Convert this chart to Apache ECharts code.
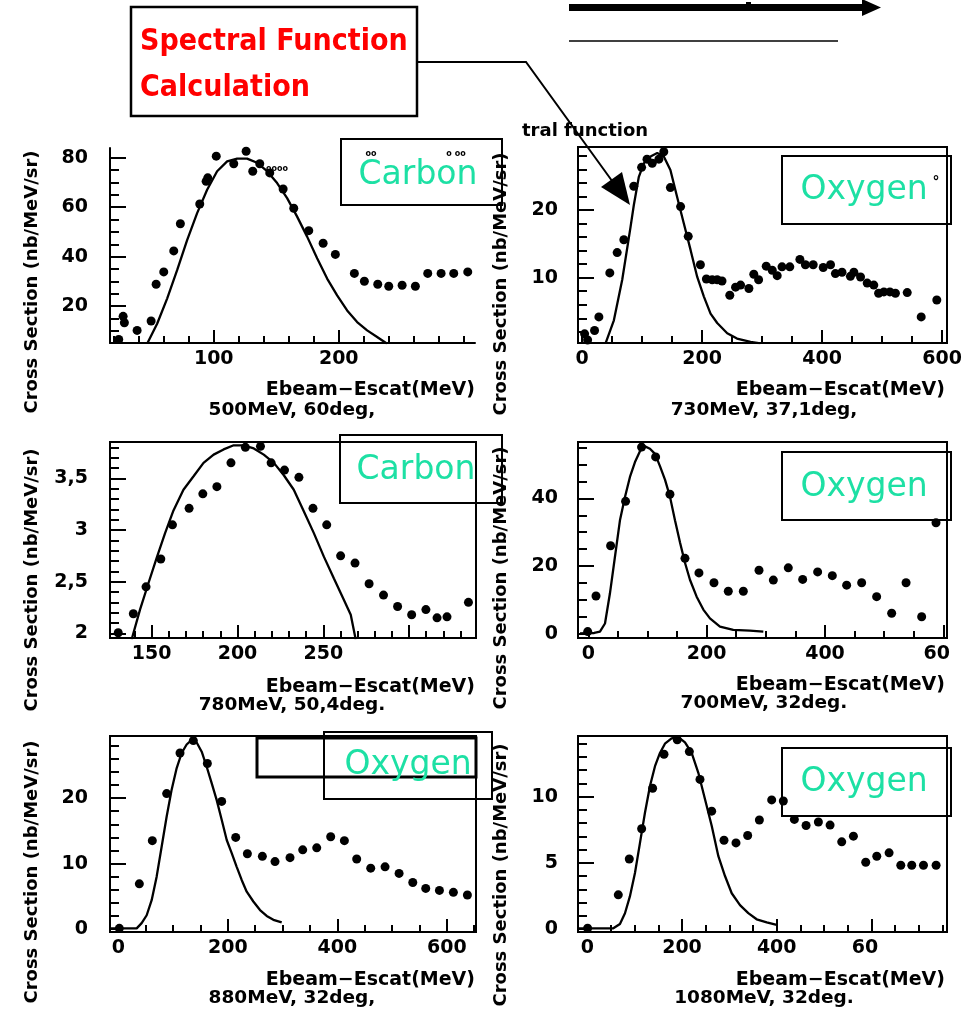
<!DOCTYPE html>
<html><head><meta charset="utf-8">
<script src="https://cdn.jsdelivr.net/npm/echarts@6/dist/echarts.min.js"></script>
<style>html,body{margin:0;padding:0;background:#fff}#c{width:971px;height:1011px}</style>
</head><body><div id="c"></div><script>
// ---------------- DATA ----------------
// Panel 1: Carbon, 500MeV 60deg
const p1DataX = [24, 27.5, 28.5, 38.7, 49.9, 53.9, 60, 68, 73.3, 88.8, 93.9, 95.2, 102, 116, 125.9, 131.2, 136.8, 144.8, 155.5, 164, 176, 187.5, 197.3, 212.5, 220.5, 231.2, 240, 250.7, 261.3, 271.2, 281.9, 292, 303.2];
const p1DataY = [6.4, 15.8, 13.2, 10.1, 13.9, 28.8, 33.8, 42.3, 53.3, 61.3, 70.5, 71.9, 80.7, 77.6, 82.7, 74.6, 77.6, 73.9, 67.4, 59.6, 50.5, 45.4, 40.9, 33.2, 30.0, 28.8, 28.0, 28.4, 28.0, 33.2, 33.2, 33.2, 33.8];
const p1CurveX = [46.7, 54.7, 62.7, 70.7, 78.7, 86.7, 94.7, 102.7, 110.7, 118.7, 126.7, 134.7, 142.7, 150.7, 158.7, 166.7, 174.7, 182.7, 190.7, 198.7, 206.7, 214.7, 222.7, 230.7, 238.7];
const p1CurveY = [4.7, 12.8, 23, 34.5, 46.7, 57.6, 67.1, 74.6, 78.6, 79.7, 79.7, 78, 74.6, 69.8, 63.7, 56.2, 48.1, 39.3, 31.1, 24.3, 18.2, 13.5, 10.1, 7.4, 4.7];
// Panel 2: Oxygen, 730MeV 37.1deg
const p2DataX = [4, 9, 20.6, 27.8, 46, 58.3, 69.4, 86, 99, 108, 116.7, 127.8, 136, 147, 164, 176.7, 197, 207, 216.7, 225, 233, 246, 255.6, 264, 277.8, 286, 294, 306.7, 316.7, 325, 333, 346, 362.8, 372, 385, 401.7, 413.9, 422, 433, 447, 452.8, 463.9, 475, 486, 494, 502.8, 512.8, 522, 541.7, 565, 591];
const p2DataY = [1.7, 0.8, 2.2, 4.2, 10.7, 13.7, 15.6, 23.5, 26.3, 27.5, 26.9, 27.5, 28.6, 23.3, 20.5, 16.1, 11.9, 9.8, 9.7, 9.7, 9.5, 7.4, 8.6, 8.9, 8.4, 10.5, 9.7, 11.7, 11.1, 10.3, 11.6, 11.6, 12.7, 11.9, 11.9, 11.5, 11.9, 10.6, 10.8, 10.2, 10.8, 10.1, 9.2, 8.9, 7.7, 7.9, 7.9, 7.7, 7.8, 4.2, 6.7];
const p2CurveX = [38.9, 52.8, 66.7, 80.6, 86, 94.4, 102.8, 113.9, 125, 136, 147, 158, 169.4, 180.6, 191.7, 202.8, 213.9, 225, 241.7, 258, 280.6, 297];
const p2CurveY = [0.3, 3.7, 9.7, 17.5, 20.7, 24.9, 26.9, 27.9, 28.4, 27.9, 25.9, 22, 18, 14.1, 10.1, 7.2, 4.7, 3.3, 1.8, 1.0, 0.5, 0.3];
// Panel 3: Carbon, 780MeV 50.4deg
const p3DataX = [130.5, 139.3, 146.7, 155.3, 162.1, 171.8, 179.8, 188, 196.2, 204.6, 213.4, 219.6, 227.4, 235.8, 244, 252, 260.1, 268.5, 276.7, 285.1, 293.3, 301.5, 309.8, 316.3, 322.1, 334.6];
const p3DataY = [2.006, 2.19, 2.45, 2.72, 3.05, 3.21, 3.35, 3.42, 3.65, 3.80, 3.81, 3.65, 3.58, 3.51, 3.21, 3.05, 2.75, 2.68, 2.48, 2.37, 2.26, 2.18, 2.23, 2.15, 2.16, 2.30];
const p3CurveX = [138.3, 143.2, 148, 152.9, 157.8, 162.7, 168.5, 174.4, 180.2, 186.1, 191.9, 197.8, 203.6, 209.5, 215.3, 221.2, 227, 232.8, 238.7, 244.5, 250.4, 256.2, 262.1, 266, 268.9];
const p3CurveY = [1.94, 2.23, 2.48, 2.73, 2.97, 3.19, 3.39, 3.52, 3.65, 3.73, 3.78, 3.82, 3.82, 3.79, 3.73, 3.65, 3.53, 3.39, 3.18, 2.97, 2.74, 2.53, 2.32, 2.18, 1.94];
// Panel 4: Oxygen, 700MeV 32deg
const p4DataX = [-1, 13, 37.7, 63, 90, 113.8, 138, 163.4, 187, 212.4, 236.6, 262, 288.5, 312.7, 338, 362.3, 387.6, 412.4, 436.6, 462, 487.3, 512.7, 537, 563.4, 587.6];
const p4DataY = [0.7, 11.2, 26, 39.1, 55.1, 52.2, 41.2, 22.3, 18, 15.1, 12.6, 12.6, 18.8, 15.9, 19.5, 16.1, 18.3, 17.2, 14.4, 15.1, 11, 6.1, 15.1, 5.1, 32.8];
const p4CurveX = [-14, 10, 19.7, 28.2, 36.6, 45, 53.5, 62, 70.4, 78.9, 87.3, 95.8, 104.2, 112.7, 121.1, 129.6, 138, 146.5, 155, 163.4, 171.8, 183.1, 194.4, 205.6, 222.5, 245, 273, 295.8];
const p4CurveY = [0.2, 0.3, 0.7, 3.1, 12, 22.7, 33.5, 40.4, 46.3, 50.7, 53.9, 55.3, 54.6, 53.1, 49.5, 45.5, 40.5, 33.5, 27, 21, 16, 11, 7.2, 4.6, 2.2, 1.2, 1.0, 0.7];
// Panel 5: Oxygen, 880MeV 32deg
const p5DataX = [1.8, 38.4, 62.1, 88.3, 112.7, 137, 162.6, 188.8, 214.4, 235.7, 263.1, 286.2, 313.6, 336.8, 362.4, 387.9, 412.9, 435.4, 461, 487.2, 512.8, 537.8, 561.5, 586.5, 612, 637.6];
const p5DataY = [0.1, 6.9, 13.5, 20.7, 26.9, 28.8, 25.3, 19.5, 14, 11.5, 11.1, 10.3, 10.9, 12.1, 12.4, 14.1, 13.5, 10.7, 9.3, 9.5, 8.5, 7.1, 6.2, 5.9, 5.6, 5.2];
const p5CurveX = [-15, 33.5, 42.6, 51.8, 60.9, 70, 79.2, 88.3, 97.4, 106.6, 115.7, 124.8, 134, 143.1, 152.3, 161.4, 170.5, 179.7, 188.8, 198, 207.1, 216.2, 225.3, 234.5, 246.6, 258.8, 271, 283.2, 298.4];
const p5CurveY = [0.1, 0.1, 0.9, 2.1, 4.4, 8, 12.6, 17.2, 21.3, 24.6, 26.9, 28.2, 28.9, 28.5, 27.1, 24.8, 22.3, 19.7, 16.7, 13.6, 11.6, 9.5, 7.5, 5.7, 4.2, 2.9, 2.0, 1.4, 1.0];
// Panel 6: Oxygen, 1080MeV 32deg
const p6DataX = [0.7, 65.5, 88.7, 114.8, 138, 162, 190, 215.5, 238, 262.7, 288.7, 314, 338.7, 363.4, 389.4, 414, 437.3, 462, 488, 512.7, 537.3, 562, 588, 611.3, 637.3, 662, 685.2, 709.9, 736.6];
const p6DataY = [0.05, 2.58, 5.29, 7.57, 10.63, 13.2, 14.3, 13.4, 11.3, 8.9, 6.7, 6.5, 7.06, 8.23, 9.75, 9.67, 8.28, 7.82, 8.08, 7.85, 6.58, 7.01, 5.04, 5.49, 5.75, 4.81, 4.81, 4.81, 4.81];
const p6CurveX = [-19, 55, 69, 79.6, 90, 100.7, 111.3, 121.8, 132.4, 143, 153.5, 164, 178, 192.3, 206.3, 220.4, 234.5, 248.6, 262.7, 276.8, 290.8, 305, 322.5, 340, 357.7, 378.9, 400];
const p6CurveY = [0.05, 0.05, 0.38, 1.19, 2.46, 4.23, 6.5, 8.78, 10.8, 12.3, 13.3, 14, 14.4, 14.5, 14.1, 13.3, 11.8, 9.8, 7.8, 5.5, 4.0, 2.7, 1.8, 1.2, 0.73, 0.5, 0.3];

// tick labels
const p1XLabels = [100, 200], p1YLabels = [20, 40, 60, 80];
const p2XLabels = [0, 200, 400, 600], p2YLabels = [10, 20];
const p3XLabels = [150, 200, 250], p3YLabels = [2, 2.5, 3, 3.5];
const p4XLabels = [0, 200, 400, 600], p4YLabels = [0, 20, 40];
const p5XLabels = [0, 200, 400, 600], p5YLabels = [0, 10, 20];
const p6XLabels = [0, 200, 400, 600], p6YLabels = [0, 5, 10];
const subtitles = ['500MeV, 60deg,', '730MeV, 37,1deg,', '780MeV, 50,4deg.', '700MeV, 32deg.', '880MeV, 32deg,', '1080MeV, 32deg.'];
const targets = ['Carbon', 'Oxygen', 'Carbon', 'Oxygen', 'Oxygen', 'Oxygen'];

// ---------------- LAYOUT ----------------
function range(a, b, s) { const r = []; for (let v = a; v <= b + 1e-9; v += s) r.push(Math.round(v * 1000) / 1000); return r; }
const panels = [
  {dx: p1DataX, dy: p1DataY, cx: p1CurveX, cy: p1CurveY, left: 110, top: 148, width: 365, height: 195, frame: false,
   xr: [17, 309], yr: [5, 84], xLab: p1XLabels, yLab: p1YLabels, xMaj: [100, 200], yMaj: [20, 40, 60, 80], xMin: range(20, 300, 20), yMin: range(5, 80, 5), ym: 22},
  {dx: p2DataX, dy: p2DataY, cx: p2CurveX, cy: p2CurveY, left: 578, top: 147, width: 369, height: 196, frame: true,
   xr: [-7, 608], yr: [0.35, 29.3], xLab: p2XLabels, yLab: p2YLabels, xMaj: [200, 400, 600], yMaj: [10, 20], xMin: range(0, 600, 50), yMin: range(2, 28, 2), ym: 20},
  {dx: p3DataX, dy: p3DataY, cx: p3CurveX, cy: p3CurveY, left: 110, top: 442, width: 366, height: 196, frame: true,
   xr: [125.7, 339], yr: [1.955, 3.852], xLab: p3XLabels, yLab: p3YLabels, xMaj: [150, 200, 250, 300], yMaj: [2, 2.5, 3, 3.5], xMin: range(130, 330, 10), yMin: range(2, 3.8, 0.1), ym: 22},
  {dx: p4DataX, dy: p4DataY, cx: p4CurveX, cy: p4CurveY, left: 578, top: 442, width: 369, height: 196, frame: true, trunc: true,
   xr: [-17.4, 606.2], yr: [-1.18, 56.6], xLab: p4XLabels, yLab: p4YLabels, xMaj: [200, 400, 600], yMaj: [20, 40], xMin: range(0, 600, 50), yMin: range(0, 55, 5), ym: 20},
  {dx: p5DataX, dy: p5DataY, cx: p5CurveX, cy: p5CurveY, left: 110, top: 736, width: 366, height: 196, frame: true,
   xr: [-15.2, 653.3], yr: [-0.46, 29.5], xLab: p5XLabels, yLab: p5YLabels, xMaj: [200, 400, 600], yMaj: [10, 20], xMin: range(0, 650, 50), yMin: range(0, 28, 2), ym: 22},
  {dx: p6DataX, dy: p6DataY, cx: p6CurveX, cy: p6CurveY, left: 578, top: 736, width: 369, height: 196, frame: true, trunc: true,
   xr: [-19.6, 759.6], yr: [-0.23, 14.58], xLab: p6XLabels, yLab: p6YLabels, xMaj: [200, 400, 600], yMaj: [5, 10], xMin: range(0, 750, 50), yMin: range(0, 14, 1), ym: 20}
];

const FONT = '"DejaVu Sans", sans-serif';
const lab = {fontFamily: FONT, fontSize: 19, fontWeight: 'bold', color: '#000'};
const tickLine = {color: '#000', width: 2};
const grid = [], xAxis = [], yAxis = [], series = [];
function inR(arr, r) { return arr.filter(v => v >= r[0] && v <= r[1]); }

panels.forEach((p, i) => {
  grid.push({left: p.left, top: p.top, width: p.width, height: p.height, show: p.frame, borderColor: '#000', borderWidth: 2, containLabel: false});
  const xfmt = v => (p.trunc && v === 600) ? '{t|60}' : String(v);
  xAxis.push({type: 'value', gridIndex: i, position: 'bottom', min: p.xr[0], max: p.xr[1],
    axisLine: {show: true, onZero: false, lineStyle: tickLine},
    axisTick: {show: true, inside: true, length: 13, customValues: inR(p.xMaj, p.xr), lineStyle: tickLine},
    axisLabel: Object.assign({show: true, margin: 7, customValues: inR(p.xLab, p.xr), formatter: xfmt,
      rich: {t: Object.assign({padding: [0, 13, 0, 0]}, lab)}}, lab),
    splitLine: {show: false}});
  xAxis.push({type: 'value', gridIndex: i, position: 'bottom', min: p.xr[0], max: p.xr[1],
    axisLine: {show: false, onZero: false},
    axisTick: {show: true, inside: true, length: 7, customValues: inR(p.xMin, p.xr), lineStyle: tickLine},
    axisLabel: {show: false}, splitLine: {show: false}});
  yAxis.push({type: 'value', gridIndex: i, position: 'left', min: p.yr[0], max: p.yr[1],
    axisLine: {show: true, onZero: false, lineStyle: tickLine},
    axisTick: {show: true, inside: true, length: 16, customValues: inR(p.yMaj, p.yr), lineStyle: tickLine},
    axisLabel: Object.assign({show: true, margin: p.ym, customValues: inR(p.yLab, p.yr), formatter: v => String(v).replace('.', ',')}, lab),
    splitLine: {show: false}});
  yAxis.push({type: 'value', gridIndex: i, position: 'left', min: p.yr[0], max: p.yr[1],
    axisLine: {show: false, onZero: false},
    axisTick: {show: true, inside: true, length: 9, customValues: inR(p.yMin, p.yr), lineStyle: tickLine},
    axisLabel: {show: false}, splitLine: {show: false}});
  series.push({type: 'line', xAxisIndex: 2 * i, yAxisIndex: 2 * i, data: p.cx.map((x, k) => [x, p.cy[k]]),
    showSymbol: false, symbol: 'none', clip: true, lineStyle: {color: '#000', width: 2.3, opacity: 1}, silent: true, z: 3});
  series.push({type: 'scatter', xAxisIndex: 2 * i, yAxisIndex: 2 * i, data: p.dx.map((x, k) => [x, p.dy[k]]),
    symbol: 'circle', symbolSize: 9, itemStyle: {color: '#000', opacity: 1}, silent: true, z: 4});
});

// ---------------- ANNOTATIONS ----------------
const g = [];
function txt(x, y, text, font, fill, align, extra) {
  return Object.assign({type: 'text', x: x, y: y, z: 10, silent: true,
    style: {text: text, font: font, fill: fill, textAlign: align, align: align, textVerticalAlign: 'middle', verticalAlign: 'middle'}}, extra || {});
}
function rect(x, y, w, h, lw) { return {type: 'rect', z: 10, silent: true, shape: {x: x, y: y, width: w, height: h}, style: {fill: 'none', stroke: '#000', lineWidth: lw || 2}}; }
const axFont = 'bold 19px ' + FONT;
const subFont = 'bold 18.5px ' + FONT;
const yFont = 'bold 18px ' + FONT;
const tFont = '33px ' + FONT;
const teal = '#1de0a4';
// axis titles & subtitles
const colR = [475, 945], colC = [292, 764], yLabX = [32, 501];
const titleY = [390, 390, 687, 685, 980, 980];
const subY = [410, 410, 705, 703, 998, 998];
const yLabY = [282, 284, 580, 578, 872, 875];
panels.forEach((p, i) => {
  const c = i % 2;
  g.push(txt(colR[c], titleY[i], 'Ebeam\u2212Escat(MeV)', axFont, '#000', 'right'));
  g.push(txt(colC[c], subY[i], subtitles[i], subFont, '#000', 'center'));
  g.push(txt(yLabX[c], yLabY[i], 'Cross Section (nb/MeV/sr)', yFont, '#000', 'center', {rotation: Math.PI / 2}));
});
// target boxes
g.push(rect(341, 139, 161, 66));
g.push(txt(418, 175, targets[0], tFont, teal, 'center'));
g.push(rect(782, 156, 169, 68));
g.push(txt(864, 190, targets[1], tFont, teal, 'center'));
g.push(txt(936, 182, '\u00b0', 'bold 14px ' + FONT, '#000', 'center'));
g.push(rect(340, 435, 162, 68));
g.push(txt(416, 470, targets[2], tFont, teal, 'center'));
g.push(rect(782, 452, 169, 68));
g.push(txt(864, 487, targets[3], tFont, teal, 'center'));
g.push(rect(257, 738, 219, 39, 3));
g.push(rect(324, 732, 168, 67));
g.push(txt(408, 765, targets[4], tFont, teal, 'center'));
g.push(rect(782, 748, 169, 68));
g.push(txt(864, 782, targets[5], tFont, teal, 'center'));
// tiny open marks
g.push(txt(371, 154, 'oo', 'bold 8px ' + FONT, '#000', 'center'));
g.push(txt(456, 154, 'o oo', 'bold 8px ' + FONT, '#000', 'center'));
g.push(txt(277, 169, 'oooo', 'bold 8px ' + FONT, '#000', 'center'));
// Spectral function box + connector arrow
g.push(rect(131, 7, 286, 109, 2.5));
g.push(txt(140, 42, 'Spectral Function', 'bold 27px ' + FONT, '#ff0000', 'left', {scaleY: 1.1}));
g.push(txt(140, 88, 'Calculation', 'bold 27px ' + FONT, '#ff0000', 'left', {scaleY: 1.1}));
g.push({type: 'polyline', z: 10, silent: true, shape: {points: [[417, 62], [526, 62], [615, 185]]}, style: {stroke: '#000', lineWidth: 2, fill: 'none'}});
g.push({type: 'polygon', z: 10, silent: true, shape: {points: [[630, 205], [601, 187], [622, 172]]}, style: {fill: '#000'}});
g.push(txt(522, 131, 'tral function', 'bold 18px ' + FONT, '#000', 'left'));
// top arrows
g.push({type: 'line', z: 10, silent: true, shape: {x1: 569, y1: 7.5, x2: 866, y2: 7.5}, style: {stroke: '#000', lineWidth: 7}});
g.push({type: 'polygon', z: 10, silent: true, shape: {points: [[862, -1], [881, 7.5], [862, 16]]}, style: {fill: '#000'}});
g.push({type: 'rect', z: 10, silent: true, shape: {x: 746, y: 2, width: 5, height: 4}, style: {fill: '#000'}});
g.push({type: 'line', z: 10, silent: true, shape: {x1: 569, y1: 41, x2: 838, y2: 41}, style: {stroke: '#000', lineWidth: 1.6}});

const chart = echarts.init(document.getElementById('c'), null, {renderer: 'canvas'});
chart.setOption({animation: false, backgroundColor: '#fff', grid: grid, xAxis: xAxis, yAxis: yAxis, series: series, graphic: {elements: g}});
</script></body></html>
